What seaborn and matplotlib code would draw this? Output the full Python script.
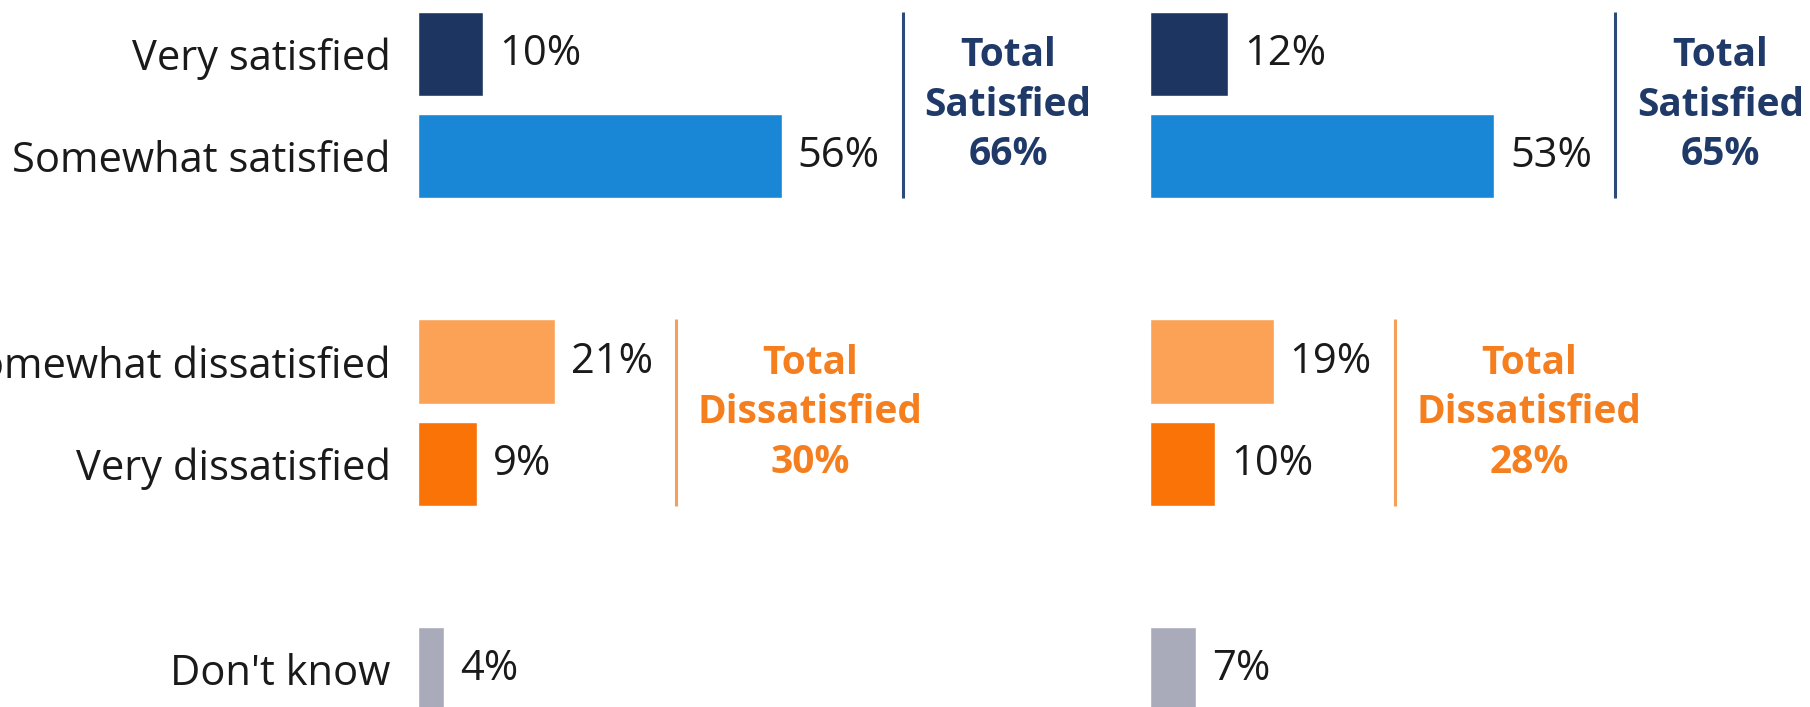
import matplotlib
matplotlib.use('Agg')
import matplotlib.pyplot as plt
import matplotlib.transforms as mtransforms
import pandas as pd
import seaborn as sns

# Data
categories = ['Very satisfied', 'Somewhat satisfied', 'Somewhat dissatisfied',
              'Very dissatisfied', "Don't know"]
left_values = [10, 56, 21, 9, 4]
right_values = [12, 53, 19, 10, 7]
left_totals = [66, 30]
right_totals = [65, 28]
total_names = ['Total\nSatisfied', 'Total\nDissatisfied']
row_positions = [0, 1, 3, 4, 6]
groups = [(0, 1), (2, 3)]

bar_colors = ['#1C3661', '#1A87D6', '#FBA257', '#F97306', '#A9ABBA']
total_colors = ['#1F3A68', '#F57E1E']
line_colors = ['#2E4A7A', '#F5A05A']

sns.set_theme(style='white')
plt.rcParams['font.family'] = ['Open Sans', 'DejaVu Sans']

W, H = 1810, 707
px_per_pct = 6.485
fig = plt.figure(figsize=(W / 100, H / 100), dpi=100)
ax_left = fig.add_axes([418.4 / W, 0, 100 * px_per_pct / W, 1])
ax_right = fig.add_axes([1150.3 / W, 0, 100 * px_per_pct / W, 1])


def draw_panel(ax, values, totals, show_labels):
    df = pd.DataFrame({'category': categories, 'value': values, 'pos': row_positions})
    sns.barplot(data=df, x='value', y='pos', hue='category',
                palette=dict(zip(categories, bar_colors)), orient='h',
                native_scale=True, width=0.82, dodge=False, legend=False,
                saturation=1, ax=ax)
    ax.set_xlim(0, 100)
    ax.set_ylim(6.368, -0.524)
    ax.set_xlabel('')
    ax.set_ylabel('')
    ax.set_xticks([])
    if show_labels:
        ax.set_yticks(row_positions, categories)
        ax.tick_params(axis='y', length=0, pad=20, labelsize=30, labelcolor='#1a1a1a')
    else:
        ax.set_yticks([])
    for s in ax.spines.values():
        s.set_visible(False)

    # value labels
    for pos, v in zip(row_positions, values):
        ax.annotate(f'{v}%', xy=(v, pos), xytext=(16, 0), textcoords='offset pixels',
                    ha='left', va='center', fontsize=30, color='#1a1a1a')

    # brackets with totals
    line_trans = mtransforms.offset_copy(ax.transData, fig=fig, x=121, y=0, units='dots')
    for k, (i, j) in enumerate(groups):
        top = row_positions[i] - 0.41
        bottom = row_positions[j] + 0.41
        xmax = max(values[i], values[j])
        ax.plot([xmax, xmax], [top, bottom], transform=line_trans, color=line_colors[k],
                lw=2.2, clip_on=False, solid_capstyle='butt')
        ax.annotate(f'{total_names[k]}\n{totals[k]}%', xy=(xmax, (top + bottom) / 2),
                    xytext=(143, 0), textcoords='offset pixels', ha='left', va='center',
                    multialignment='center', fontsize=28, fontweight='bold',
                    color=total_colors[k], linespacing=1.35, annotation_clip=False)


draw_panel(ax_left, left_values, left_totals, True)
draw_panel(ax_right, right_values, right_totals, False)

fig.savefig('out.png', dpi=100)
